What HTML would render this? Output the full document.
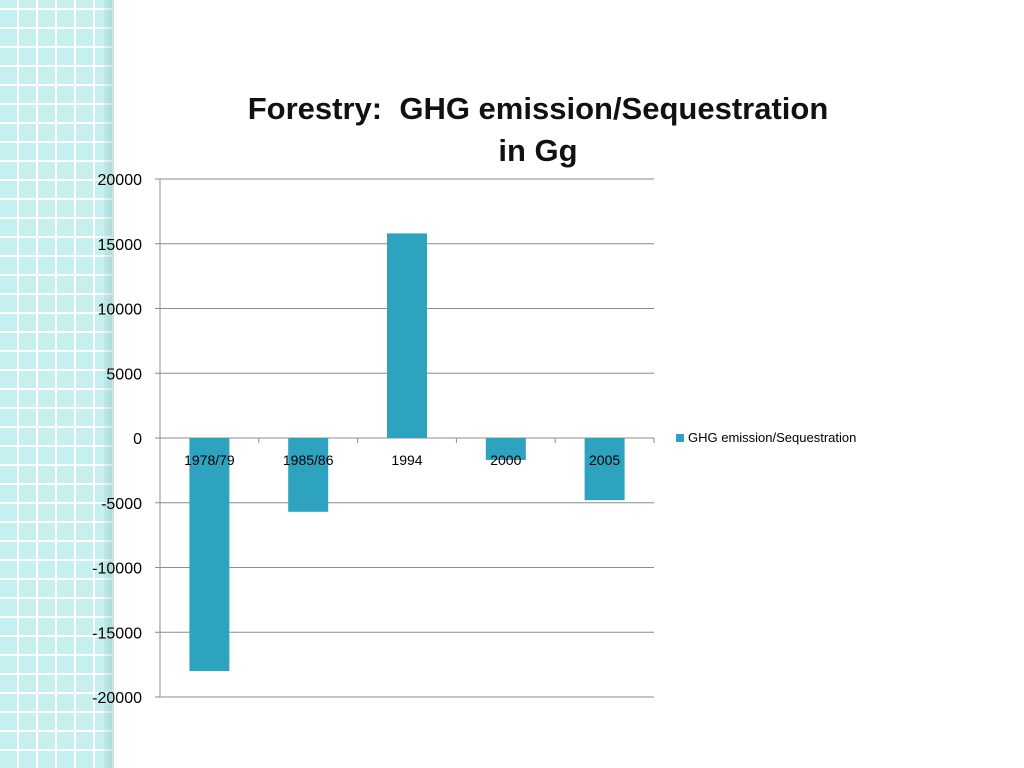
<!DOCTYPE html>
<html><head><meta charset="utf-8">
<style>
body{margin:0;width:1024px;height:768px;background:#fff;position:relative;overflow:hidden;font-family:"Liberation Sans",sans-serif;}
#strip{position:absolute;left:0;top:0;width:112px;height:768px;background-color:#c6f0f0;
background-image:repeating-linear-gradient(90deg,transparent 0 17px,#fff 17px 19px),repeating-linear-gradient(0deg,transparent 0 17px,#fff 17px 19px);}
#shade{position:absolute;left:104px;top:0;width:10px;height:768px;background:linear-gradient(90deg,rgba(160,200,200,0.2),rgba(150,190,190,0.5));}
#title{position:absolute;left:200px;top:88px;width:676px;text-align:center;font-weight:bold;font-size:31px;line-height:42px;color:#111;}
</style></head><body>
<div id="strip"></div>
<div id="shade"></div>
<div id="title">Forestry:&nbsp; GHG emission/Sequestration<br>in Gg</div>
<svg id="chart" width="1024" height="768" style="position:absolute;left:0;top:0"></svg>
<script>
const categories=["1978/79","1985/86","1994","2000","2005"];
const values=[-18000,-5700,15800,-1700,-4800];
const yTicks=[20000,15000,10000,5000,0,-5000,-10000,-15000,-20000];
const svg=document.getElementById('chart');
const NS='http://www.w3.org/2000/svg';
const x0=160,x1=654,yTop=179,yBot=697,yMax=20000,yMin=-20000;
const y=v=>yTop+(yMax-v)/(yMax-yMin)*(yBot-yTop);
const band=(x1-x0)/categories.length;
function mk(t,a){const e=document.createElementNS(NS,t);for(const k in a)e.setAttribute(k,a[k]);svg.appendChild(e);return e;}
yTicks.forEach(t=>{
 const l=mk('line',{x1:x0-5,x2:x1,y1:y(t),y2:y(t),stroke:'#8c8c8c','stroke-width':1});
 
 
 const tx=mk('text',{x:142,y:y(t)+6,'text-anchor':'end','font-size':16,fill:'#000'});
 tx.textContent=t;
 
 
});
const ax=mk('line',{x1:x0,x2:x0,y1:yTop,y2:yBot,stroke:'#8c8c8c','stroke-width':1});


for(let i=0;i<=categories.length;i++){
 const t=mk('line',{x1:x0+i*band,x2:x0+i*band,y1:y(0),y2:y(0)+5,stroke:'#8c8c8c'});
 
 
}
categories.forEach((c,i)=>{
 const cx=x0+band*(i+0.5),v=values[i];
 const r=mk('rect',{x:cx-20,width:40,y:Math.min(y(v),y(0)),height:Math.abs(y(v)-y(0)),fill:'#2ea3c0'});
 
 
});
categories.forEach((c,i)=>{
 const cx=x0+band*(i+0.5);
 const t=mk('text',{x:cx,y:y(0)+27,'text-anchor':'middle','font-size':14,fill:'#000'});
 t.textContent=c;
 
 
});
const lg=mk('rect',{x:676,y:434,width:8,height:8,fill:'#2ea3c0'});


const lt=mk('text',{x:688,y:442,'font-size':13,fill:'#000'});
lt.textContent='GHG emission/Sequestration';


</script>
</body></html>
